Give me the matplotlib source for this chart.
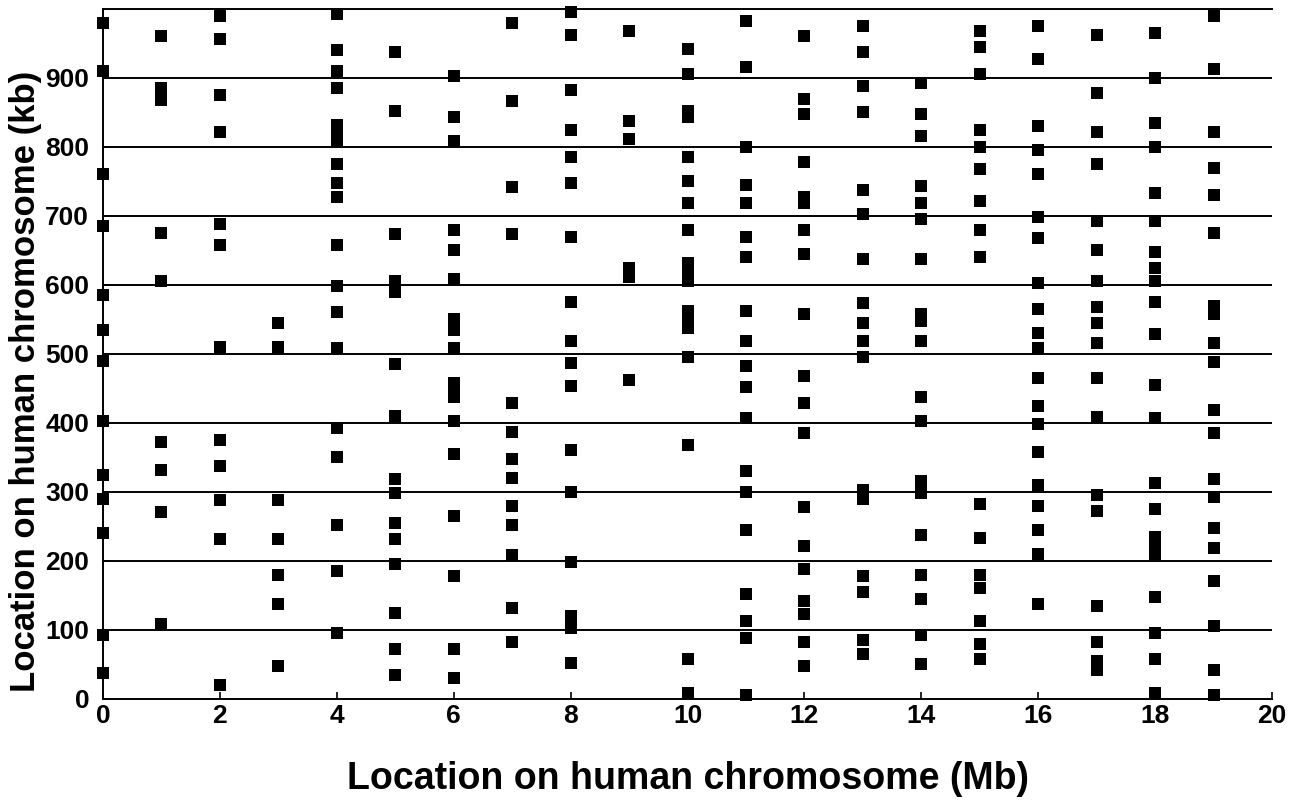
# human chromosome locations, Mb column vs kb position within it

import matplotlib
matplotlib.use("Agg")
import matplotlib.pyplot as plt

# kb positions for each Mb column (0..19)
col_00 = [979, 910, 760, 685, 585, 535, 490, 403, 325, 290, 240, 93, 38]
col_01 = [960, 885, 868, 675, 605, 372, 332, 270, 108]
col_02 = [990, 957, 875, 822, 688, 658, 510, 375, 338, 288, 232, 20]
col_03 = [545, 510, 288, 232, 180, 138, 48]
col_04 = [993, 940, 910, 885, 832, 822, 808, 775, 748, 728, 658, 598, 560, 508, 393, 350, 252, 185, 95]
col_05 = [937, 852, 673, 605, 590, 485, 410, 318, 298, 255, 232, 195, 125, 72, 35]
col_06 = [902, 843, 808, 680, 650, 608, 550, 535, 508, 458, 448, 438, 403, 355, 265, 178, 72, 30]
col_07 = [980, 867, 742, 673, 428, 387, 348, 320, 280, 252, 208, 132, 82]
col_08 = [995, 962, 882, 825, 785, 747, 670, 575, 518, 487, 453, 360, 300, 198, 120, 103, 52]
col_09 = [968, 837, 812, 625, 612, 462]
col_10 = [942, 905, 852, 843, 785, 750, 718, 680, 632, 622, 605, 562, 548, 538, 495, 368, 57, 8]
col_11 = [982, 915, 800, 745, 718, 670, 640, 562, 518, 483, 452, 407, 330, 300, 245, 152, 112, 88, 5]
col_12 = [960, 870, 848, 778, 728, 718, 680, 645, 558, 468, 428, 385, 278, 222, 188, 142, 123, 82, 48]
col_13 = [975, 938, 888, 850, 738, 702, 638, 573, 545, 518, 495, 302, 290, 178, 155, 85, 65]
col_14 = [893, 848, 815, 743, 718, 695, 638, 558, 548, 518, 438, 402, 315, 298, 238, 180, 145, 92, 50]
col_15 = [968, 945, 905, 825, 800, 768, 722, 680, 640, 283, 233, 180, 160, 112, 80, 58]
col_16 = [975, 928, 830, 795, 760, 698, 668, 602, 565, 530, 508, 465, 425, 398, 358, 310, 280, 245, 210, 138]
col_17 = [962, 878, 822, 775, 693, 650, 605, 568, 545, 515, 465, 408, 295, 272, 135, 82, 55, 42]
col_18 = [965, 900, 835, 800, 733, 692, 648, 625, 605, 575, 528, 455, 407, 312, 275, 235, 222, 210, 148, 95, 58, 8]
col_19 = [990, 913, 822, 770, 730, 675, 570, 558, 515, 488, 418, 385, 318, 292, 248, 218, 170, 105, 42, 5]

columns = [col_00, col_01, col_02, col_03, col_04, col_05, col_06, col_07, col_08, col_09,
           col_10, col_11, col_12, col_13, col_14, col_15, col_16, col_17, col_18, col_19]

xticks = list(range(0, 21, 2))
yticks = list(range(0, 1000, 100))

plt.rcParams['font.family'] = ['Liberation Sans', 'DejaVu Sans']
plt.rcParams['font.weight'] = 'bold'

fig = plt.figure(figsize=(13.04, 8.05), dpi=100)
ax = fig.add_axes([0.079, 0.132, 0.8965, 0.857])

# horizontal reference lines
for yv in yticks[1:]:
    ax.axhline(yv, color='black', lw=1.4, zorder=1)

xs = []
ys = []
for mb, kbs in enumerate(columns):
    xs += [mb] * len(kbs)
    ys += kbs
ax.scatter(xs, ys, marker='s', s=75, color='black', zorder=3, clip_on=False, linewidths=0)

ax.set_xlim(0, 20)
ax.set_ylim(0, 1000)
ax.set_xticks(xticks)
ax.set_yticks(yticks)
ax.tick_params(direction='in', length=5, width=1.2, labelsize=19)
ax.tick_params(axis='x', pad=4)
ax.tick_params(axis='y', pad=10)

ax.spines['right'].set_visible(False)
for s in ['left', 'bottom', 'top']:
    ax.spines[s].set_linewidth(1.4)

ax.set_xlabel('Location on human chromosome (Mb)', fontsize=27, fontweight='bold')
ax.set_ylabel('Location on human chromosome (kb)', fontsize=25, fontweight='bold')
ax.xaxis.set_label_coords(0.5, -0.09)
ax.yaxis.set_label_coords(-0.052, 0.46)

plt.savefig('out.png', dpi=100)
